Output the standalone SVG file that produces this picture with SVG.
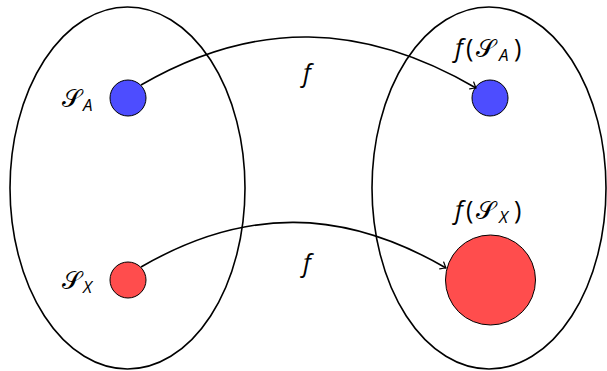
<svg xmlns="http://www.w3.org/2000/svg" width="607" height="371" viewBox="0 0 607 371">
<defs>
<marker id="arr" viewBox="-6 -5 8 10" markerWidth="8" markerHeight="10" refX="0" refY="0" orient="auto" markerUnits="userSpaceOnUse">
<path d="M-5,-4 Q-1.5,-1 0,0 Q-1.5,1 -5,4" fill="none" stroke="#000" stroke-width="1.2" stroke-linecap="round"/>
</marker>
<style>
.set{fill:none;stroke:#000;stroke-width:1.6}
.blue{fill:#4d4dff;stroke:#000;stroke-width:1}
.red{fill:#ff4d4d;stroke:#000;stroke-width:1}
.lbl{font-family:"Open Sans","DejaVu Sans",sans-serif;font-size:25px;fill:#000}
.it{font-style:italic}
.sub{font-size:17px;font-style:italic}
.edge{fill:none;stroke:#000;stroke-width:1.6;marker-end:url(#arr)}
</style>
</defs>
<g id="setA"><ellipse class="set" cx="127.5" cy="188" rx="117.5" ry="181"/></g>
<g id="setB"><ellipse class="set" cx="489" cy="188" rx="117" ry="181"/></g>
<g id="SA">
<circle class="blue" cx="128" cy="98" r="18"/>
<text class="lbl" y="107"><tspan x="62">𝒮</tspan><tspan class="sub" x="83" y="111">A</tspan></text>
</g>
<g id="SX">
<circle class="red" cx="128" cy="280" r="18"/>
<text class="lbl" y="289"><tspan x="62">𝒮</tspan><tspan class="sub" x="83" y="293">X</tspan></text>
</g>
<g id="fSA">
<circle class="blue" cx="490" cy="98" r="18"/>
<text class="lbl" y="57"><tspan class="it" x="455">f</tspan><tspan x="466">(</tspan><tspan x="476">𝒮</tspan><tspan class="sub" x="499" y="61">A</tspan><tspan x="514" y="57">)</tspan></text>
</g>
<g id="fSX">
<circle class="red" cx="490.5" cy="280" r="45"/>
<text class="lbl" y="219"><tspan class="it" x="455">f</tspan><tspan x="466">(</tspan><tspan x="476">𝒮</tspan><tspan class="sub" x="499" y="223">X</tspan><tspan x="514" y="219">)</tspan></text>
</g>
<g id="connectors">
<path class="edge" d="M141,85 C255,19 363,22 476,88"/>
<path class="edge" d="M141,267 C245,206.7 343,208 446,268"/>
<text class="lbl it" x="307" y="82" text-anchor="middle">f</text>
<text class="lbl it" x="307" y="272" text-anchor="middle">f</text>
</g>
</svg>
